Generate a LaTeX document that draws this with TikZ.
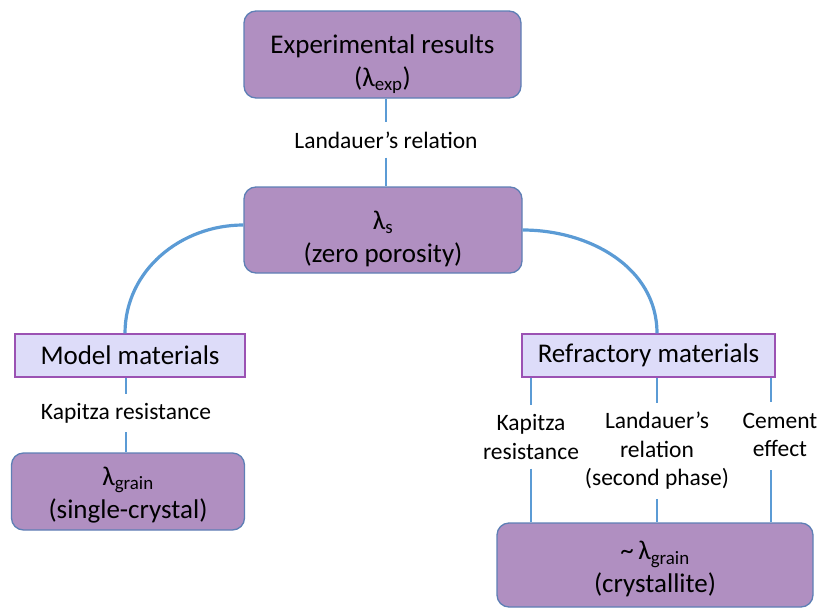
\documentclass[tikz,border=0pt]{standalone}
\usepackage{fontspec}
\setmainfont{Carlito}
\definecolor{boxfill}{HTML}{B08FC1}
\definecolor{boxdraw}{HTML}{5E7FB5}
\definecolor{lightfill}{HTML}{DDDCF9}
\definecolor{lightdraw}{HTML}{9B52B3}
\definecolor{conn}{HTML}{5B9BD5}
\newcommand{\lift}[1]{\rule{0pt}{#1pt}}
\begin{document}
\begin{tikzpicture}[x=1pt,y=-1pt,
  bigbox/.style={draw=boxdraw,line width=1.3pt,fill=boxfill,rounded corners=12pt,
    minimum width=#1,align=center,inner sep=0pt,font=\fontsize{27}{33}\selectfont},
  catbox/.style={draw=lightdraw,line width=1.3pt,fill=lightfill,
    minimum width=#1,minimum height=43pt,align=center,inner sep=0pt,font=\fontsize{27}{33}\selectfont},
  lbl/.style={align=center,inner xsep=0pt,inner ysep=9pt,font=\fontsize{23.5}{28.5}\selectfont},
  thin/.style={conn,line width=1.5pt},
  arc/.style={conn,line width=3.2pt}]
\useasboundingbox (0,0) rectangle (819,608);
\node[bigbox=277pt,minimum height=87pt] (exp) at (382.5,54.5) {\lift{38}Experimental results\\(λ\textsubscript{exp})};
\node[bigbox=278pt,minimum height=86pt] (lam) at (383,230) {\lift{36}λ\textsubscript{s}\\(zero porosity)};
\node[catbox=230pt] (model) at (130,355.5) {Model materials};
\node[catbox=253pt] (refr) at (648.5,355.5) {Refractory materials};
\node[bigbox=233pt,minimum height=77pt] (grain) at (128,491.5) {\lift{25}λ\textsubscript{grain}\\(single-crystal)};
\node[bigbox=316pt,minimum height=84pt] (cryst) at (655,565) {\lift{27}\char`\~\,λ\textsubscript{grain}\\(crystallite)};
\node[lbl] (l1) at (386,140) {Landauer’s relation};
\node[lbl] (k1) at (126,413) {Kapitza resistance};
\node[lbl] (k2) at (531,437) {Kapitza\\resistance};
\node[lbl] (l2) at (657,451) {Landauer’s\\relation\\(second phase)};
\node[lbl] (ce) at (780,435) {Cement\\effect};
\draw[thin] (exp.south -| l1.north) -- (l1.north);
\draw[thin] (l1.south) -- (lam.north -| l1.south);
\draw[thin] (model.south -| k1.north) -- (k1.north);
\draw[thin] (k1.south) -- (grain.north -| k1.south);
\draw[thin] (refr.south -| k2.north) -- (k2.north);
\draw[thin] (k2.south) -- (cryst.north -| k2.south);
\draw[thin] (refr.south -| l2.north) -- (l2.north);
\draw[thin] (l2.south) -- (cryst.north -| l2.south);
\draw[thin] (refr.south -| 771,0) -- (771,402);
\draw[thin] (771,470) -- (cryst.north -| 771,0);
\draw[arc] ([yshift=5pt]lam.west) to[out=180,in=90] ([xshift=-5pt]model.north);
\draw[arc] ([yshift=0pt]lam.east) to[out=0,in=90] ([xshift=8.5pt]refr.north);
\end{tikzpicture}
\end{document}
